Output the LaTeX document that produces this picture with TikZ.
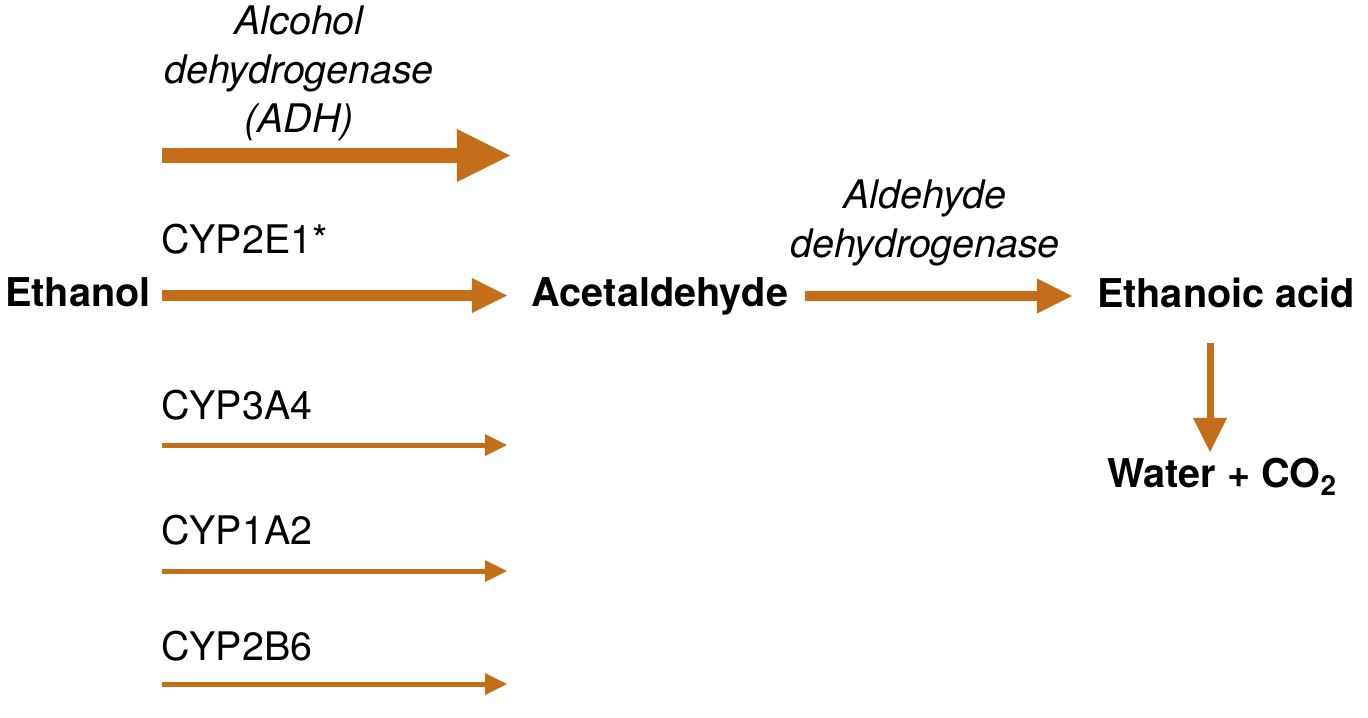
\documentclass[tikz,border=0pt]{standalone}
\usepackage{fontspec}
\setmainfont{TeX Gyre Heros}
\usepackage{tikz}
\usetikzlibrary{arrows.meta}
\usetikzlibrary{positioning}
\definecolor{rust}{RGB}{197,110,26}

\begin{document}
\begin{tikzpicture}[x=0.025cm,y=-0.025cm,font=\fontsize{28}{34}\selectfont]
 \tikzstyle{chem node}=[font=\fontsize{28.2}{34}\selectfont\bfseries,inner sep=0,anchor=base]
 \tikzstyle{enz node}=[inner sep=0,anchor=base west]
 \tikzstyle{cat node}=[font=\fontsize{28}{34.7}\selectfont\itshape,inner sep=0,align=center,anchor=base]
 \tikzset{
 	big arrow/.style={color=rust,line width=0.375cm,-{Triangle[length=1.325cm,width=1.325cm,line width=0pt]}},
 	mid arrow/.style={color=rust,line width=0.26cm,-{Triangle[length=0.875cm,width=0.875cm,line width=0pt]}},
 	down arrow/.style={color=rust,line width=0.175cm,-{Triangle[length=0.85cm,width=0.85cm,line width=0pt]}},
 	thin arrow/.style={color=rust,line width=0.125cm,-{Triangle[length=0.55cm,width=0.55cm,line width=0pt]}}
 }
 \useasboundingbox (0,0) rectangle (1368,717);

       \node[chem node] (eth) at (78,306) {Ethanol};
       \node[chem node] (acet) at (660,306) {Acetaldehyde};
       \node[chem node] (acid) at (1226,307) {Ethanoic acid};
       \node[chem node] (water) at (1222,487) {Water + CO\textsubscript{2}};

       \node[cat node] (adh) at (299,132) {Alcohol\\dehydrogenase\\(ADH)};
       \node[cat node] (aldh) at (925,257) {Aldehyde\\dehydrogenase};

       \node[enz node] (e2e1) at (161,253) {CYP2E1*};
       \node[enz node] (e3a4) at (161,419) {CYP3A4};
       \node[enz node] (e1a2) at (161,544) {CYP1A2};
       \node[enz node] (e2b6) at (161,660) {CYP2B6};

       \coordinate (a0) at (162,155.5);  \coordinate (a1) at (510,155.5);
       \coordinate (b0) at (162,295.5);  \coordinate (b1) at (507,295.5);
       \coordinate (c0) at (162,445);    \coordinate (c1) at (507,445);
       \coordinate (d0) at (162,571);    \coordinate (d1) at (507,571);
       \coordinate (f0) at (162,684);    \coordinate (f1) at (507,684);
       \coordinate (g0) at (805,296);    \coordinate (g1) at (1072,296);
       \coordinate (h0) at (1210,343);   \coordinate (h1) at (1210,452);

     \draw[big arrow]  (a0) -- (a1);
     \draw[mid arrow]  (b0) -- (b1);
     \draw[thin arrow] (c0) -- (c1);
     \draw[thin arrow] (d0) -- (d1);
     \draw[thin arrow] (f0) -- (f1);
     \draw[mid arrow]  (g0) -- (g1);
     \draw[down arrow] (h0) -- (h1);
 \end{tikzpicture}
\end{document}
